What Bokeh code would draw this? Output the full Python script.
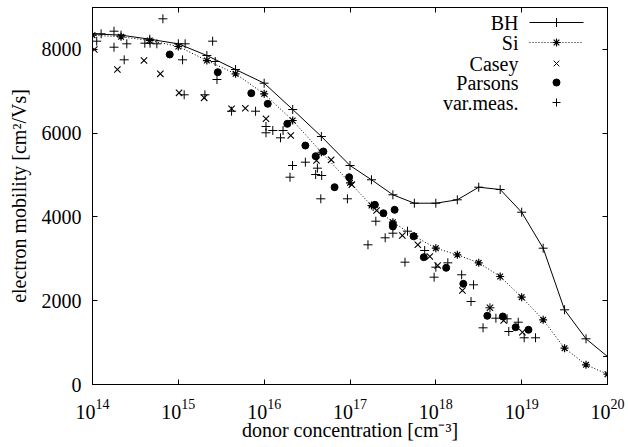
from bokeh.plotting import figure
from bokeh.models import (LogAxis, LinearAxis, FixedTicker, LogTickFormatter,
                          Range1d, LinearScale)
from bokeh.core.properties import value
from bokeh.embed import file_html
from bokeh.resources import INLINE

# ---------------- data ----------------
x_ticks = [1e14, 1e15, 1e16, 1e17, 1e18, 1e19, 1e20]
y_ticks = [0, 2000, 4000, 6000, 8000]

model_conc = [1e14, 2.15e14, 4.64e14, 1e15, 2.15e15, 4.64e15, 1e16, 2.15e16, 4.64e16,
              1e17, 1.78e17, 3.16e17, 5.62e17, 1e18, 1.78e18, 3.16e18, 5.62e18,
              1e19, 1.78e19, 3.16e19, 5.62e19, 1e20]
bh_mob = [8372, 8340, 8243, 8133, 7854, 7520, 7193, 6565, 5920, 5228, 4887, 4529,
          4328, 4328, 4409, 4710, 4655, 4113, 3254, 1783, 1091, 668]
si_mob = [8340, 8300, 8212, 8069, 7734, 7417, 6939, 6302, 5545, 4815, 4273, 3875,
          3540, 3254, 3096, 2905, 2578, 2084, 1544, 867, 470, 246]

casey_conc = [1.05e14, 1.95e14, 3.98e14, 6.17e14, 1.02e15, 2.0e15, 4.17e15, 6.03e15,
              1.05e16, 2.04e16, 4.07e16, 6.03e16, 1.05e17, 2.04e17, 4.07e17, 6.17e17,
              8.51e17, 1.05e18, 2.04e18, 4.27e18, 6.17e18, 1.02e19]
casey_mob = [7997, 7520, 7734, 7417, 6963, 6844, 6582, 6596, 6343, 5944, 5347, 5364,
             4770, 4154, 3557, 3335, 3056, 2841, 2244, 1831, 1528, 1248]

parsons_conc = [7.94e14, 2.88e15, 7.08e15, 1.1e16, 1.86e16, 3.02e16, 3.98e16, 4.9e16,
                6.61e16, 9.77e16, 1.95e17, 2.45e17, 3.31e17, 3.16e17, 3.16e17, 5.5e17,
                7.24e17, 1.32e18, 2.09e18, 3.98e18, 6.03e18, 8.51e18, 1.2e19]
parsons_mob = [7878, 7455, 6954, 6701, 6223, 5705, 5450, 5562, 4710, 4949, 4290, 4089,
               4170, 3820, 3772, 3540, 3039, 2786, 2404, 1640, 1623, 1368, 1306]

var_conc = [1.12e14, 1.26e14, 1.78e14, 1.78e14, 2.34e14, 2.51e14, 4.07e14, 4.68e14,
            5.62e14, 6.61e14, 1.12e15, 1.17e15, 1.2e15, 2.04e15, 2.51e15, 2.69e15,
            2.82e15, 4.17e15, 7.94e15, 1.05e16, 1.05e16, 1.26e16, 1.55e16, 1.66e16,
            2.0e16, 2.14e16, 3.02e16, 3.98e16, 4.17e16, 4.68e16, 4.57e16, 9.33e16,
            1.62e17, 1.86e17, 2.0e17, 2.57e17, 3.16e17, 4.37e17, 4.68e17, 7.41e17,
            9.55e17, 1e18, 1.38e18, 2.0e18, 2.57e18, 2.75e18, 3.55e18, 4.27e18,
            5.01e18, 6.76e18, 7.08e18, 9.12e18, 1.07e19, 1.45e19]
var_mob = [8196, 8372, 8434, 8052, 7751, 8133, 8148, 8148, 8133, 8730, 7751, 6916,
           8133, 6916, 8196, 7711, 7281, 6524, 6524, 6159, 6009, 6063, 5889, 6063,
           4949, 5228, 5307, 5013, 5164, 4989, 4433, 4433, 3335, 4249, 3898, 3502,
           3612, 2920, 3660, 3199, 2562, 2800, 2905, 2619, 1981, 2380, 1353, 1831,
           1583, 1568, 1265, 1487, 1115, 1115]

legend_labels = ["BH", "Si", "Casey", "Parsons", "var.meas."]

# ---------------- figure ----------------
FONT = "Liberation Serif"
FS = "20px"

p = figure(width=628, height=447, x_axis_type="log",
           x_range=Range1d(1e14, 1e20), y_range=Range1d(0, 9000),
           output_backend="svg", toolbar_location=None,
           min_border_left=92, min_border_right=21,
           min_border_top=7, min_border_bottom=63)
p.xgrid.visible = False
p.ygrid.visible = False
p.outline_line_color = "black"
p.outline_line_alpha = 1
p.background_fill_color = "white"
p.border_fill_color = "white"

def style_axis(ax, show_labels=True):
    ax.major_tick_in = 5
    ax.major_tick_out = 0
    ax.minor_tick_in = 0
    ax.minor_tick_out = 0
    ax.axis_line_color = "black"
    ax.major_tick_line_color = "black"
    ax.major_label_text_color = "black"
    ax.major_label_text_font = FONT
    ax.axis_label_text_font = FONT
    ax.axis_label_text_font_size = FS
    ax.axis_label_text_font_style = "normal"
    ax.axis_label_text_color = "black"
    if show_labels:
        ax.major_label_text_font_size = FS
    else:
        ax.major_label_text_font_size = "1px"
        ax.major_label_text_alpha = 0
        ax.major_label_standoff = 0

xa = p.xaxis[0]
xa.ticker = FixedTicker(ticks=x_ticks)
xa.formatter = LogTickFormatter()
xa.axis_label = "donor concentration [cm\u207b\u00b3]"
style_axis(xa)
xa.major_label_standoff = 14
xa.axis_label_standoff = -3

ya = p.yaxis[0]
ya.ticker = FixedTicker(ticks=y_ticks)
ya.axis_label = "electron mobility [cm\u00b2/Vs]"
style_axis(ya)
ya.major_label_standoff = 11
ya.axis_label_standoff = 9

top = LogAxis(ticker=FixedTicker(ticks=x_ticks))
style_axis(top, False)
p.add_layout(top, "above")
right = LinearAxis(ticker=FixedTicker(ticks=y_ticks))
style_axis(right, False)
p.add_layout(right, "right")

# ---------------- data renderers ----------------
p.line(model_conc, bh_mob, line_color="black", line_width=1)
p.scatter(model_conc, bh_mob, marker="cross", size=9, line_color="black", line_width=1)
p.line(model_conc, si_mob, line_color="black", line_width=1, line_dash="1 2")
p.scatter(model_conc, si_mob, marker="asterisk", size=8, line_color="black", line_width=1.2)
p.scatter(casey_conc, casey_mob, marker="x", size=9, line_color="black", line_width=1.1)
p.scatter(parsons_conc, parsons_mob, marker="circle", size=7, fill_color="black",
          line_color="black")
p.scatter(var_conc, var_mob, marker="cross", size=9, line_color="black", line_width=1)

# ---------------- legend (pixel-positioned helper scale) ----------------
p.extra_x_ranges = {"px": Range1d(92, 607)}
p.extra_x_scales = {"px": LinearScale()}
p.extra_y_ranges = {"px": Range1d(384, 7)}
p.extra_y_scales = {"px": LinearScale()}

leg_y = [22, 42, 63, 82, 102]
p.text(x=[518] * 5, y=leg_y, text=legend_labels, text_align="right",
       text_baseline="middle", text_font=value(FONT), text_font_size=FS,
       text_color="black", x_range_name="px", y_range_name="px")
p.line([529, 583], [leg_y[0]] * 2, line_color="black", line_width=1,
       x_range_name="px", y_range_name="px")
p.scatter([556], [leg_y[0]], marker="cross", size=9, line_color="black",
          x_range_name="px", y_range_name="px")
p.line([529, 583], [leg_y[1]] * 2, line_color="black", line_width=1, line_dash="1 2",
       x_range_name="px", y_range_name="px")
p.scatter([556], [leg_y[1]], marker="asterisk", size=8, line_color="black",
          line_width=1.2, x_range_name="px", y_range_name="px")
p.scatter([556], [leg_y[2]], marker="x", size=8, line_color="black",
          x_range_name="px", y_range_name="px")
p.scatter([556], [leg_y[3]], marker="circle", size=7, fill_color="black",
          line_color="black", x_range_name="px", y_range_name="px")
p.scatter([556], [leg_y[4]], marker="cross", size=8, line_color="black",
          x_range_name="px", y_range_name="px")

open("out.html", "w").write(file_html(p, INLINE))
